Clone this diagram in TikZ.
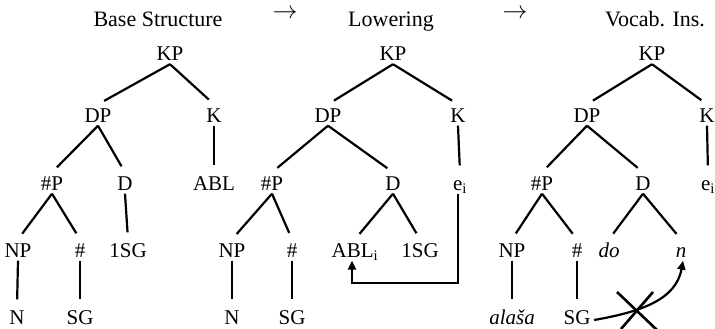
\documentclass[tikz,border=0pt]{standalone}
\usepackage{fontspec}
\setmainfont{Liberation Serif}
\usetikzlibrary{arrows.meta,calc}
\begin{document}
\begin{tikzpicture}[x=1pt,y=-1pt,
  lab/.style={font=\fontsize{21}{25}\selectfont, text height=14pt, text depth=0pt, inner sep=3.5pt},
  ttl/.style={font=\fontsize{22}{26}\selectfont, inner sep=0pt, anchor=base},
  arr/.style={font=\fontsize{24}{28}\selectfont, inner sep=0pt, anchor=base},
  edge/.style={line width=2.2pt, shorten >=7pt},
  mv/.style={line width=2.2pt, -{Triangle[length=9pt,width=8pt]}},
  crs/.style={line width=2.6pt},
  ]
\useasboundingbox (0,0) rectangle (715,329);
% titles
\node[ttl] (t1) at (158,27) {Base Structure};
\node[arr] (a1) at (285,19) {$\rightarrow$};
\node[ttl] (t2) at (391,27) {Lowering};
\node[arr] (a2) at (515,19) {$\rightarrow$};
\node[ttl] (t3) at (655,27) {Vocab. Ins.};
% tree 1
\node[lab] (KP1) at (170,53.5) {KP};
\node[lab] (DP1) at (98,115) {DP};
\node[lab] (K1) at (214,115) {K};
\node[lab] (NumP1) at (52,183) {\#P};
\node[lab] (D1) at (125,183) {D};
\node[lab] (ABL1) at (214,183) {ABL};
\node[lab] (NP1) at (18,250) {NP};
\node[lab] (Num1) at (80,250) {\#};
\node[lab] (SGa1) at (128,250) {1SG};
\node[lab] (N1) at (17,317) {N};
\node[lab] (SG1) at (80,317) {SG};
\draw[edge] (KP1.south) -- (DP1.north);
\draw[edge] (KP1.south) -- (K1.north);
\draw[edge] (DP1.south) -- (NumP1.north);
\draw[edge] (DP1.south) -- (D1.north);
\draw[edge] (K1.south) -- (ABL1.north);
\draw[edge] (NumP1.south) -- (NP1.north);
\draw[edge] (NumP1.south) -- (Num1.north);
\draw[edge] (D1.south) -- (SGa1.north);
\draw[edge] (NP1.south) -- (N1.north);
\draw[edge] (Num1.south) -- (SG1.north);
% tree 2
\node[lab] (KP2) at (393,53.5) {KP};
\node[lab] (DP2) at (328,115) {DP};
\node[lab] (K2) at (458,115) {K};
\node[lab] (NumP2) at (272,183) {\#P};
\node[lab] (D2) at (393,183) {D};
\node[lab] (e2) at (460,183) {e\textsubscript{i}};
\node[lab] (NP2) at (232,250) {NP};
\node[lab] (Num2) at (292,250) {\#};
\node[lab] (ABL2) at (355,250) {ABL\textsubscript{i}};
\node[lab] (SGa2) at (420,250) {1SG};
\node[lab] (N2) at (232,317) {N};
\node[lab] (SG2) at (292,317) {SG};
\draw[edge] (KP2.south) -- (DP2.north);
\draw[edge] (KP2.south) -- (K2.north);
\draw[edge] (DP2.south) -- (NumP2.north);
\draw[edge] (DP2.south) -- (D2.north);
\draw[edge] (K2.south) -- (e2.north);
\draw[edge] (NumP2.south) -- (NP2.north);
\draw[edge] (NumP2.south) -- (Num2.north);
\draw[edge] (D2.south) -- (ABL2.north);
\draw[edge] (D2.south) -- (SGa2.north);
\draw[edge] (NP2.south) -- (N2.north);
\draw[edge] (Num2.south) -- (SG2.north);
\draw[mv] ([xshift=-2pt]e2.south) -- ++(0,89) -| ([xshift=-3pt]ABL2.south);
% tree 3
\node[lab] (KP3) at (652,53.5) {KP};
\node[lab] (DP3) at (587,115) {DP};
\node[lab] (K3) at (707,115) {K};
\node[lab] (NumP3) at (542,183) {\#P};
\node[lab] (D3) at (643,183) {D};
\node[lab] (e3) at (708,183) {e\textsubscript{i}};
\node[lab] (NP3) at (512,250) {NP};
\node[lab] (Num3) at (577,250) {\#};
\node[lab] (do3) at (609,250) {\itshape do};
\node[lab] (n3) at (681,250) {\itshape n};
\node[lab] (al3) at (512,317) {\itshape alaša};
\node[lab] (SG3) at (577,317) {SG};
\draw[edge] (KP3.south) -- (DP3.north);
\draw[edge] (KP3.south) -- (K3.north);
\draw[edge] (DP3.south) -- (NumP3.north);
\draw[edge] (DP3.south) -- (D3.north);
\draw[edge] (K3.south) -- (e3.north);
\draw[edge] (NumP3.south) -- (NP3.north);
\draw[edge] (NumP3.south) -- (Num3.north);
\draw[edge] (D3.south) -- (do3.north);
\draw[edge] (D3.south) -- (n3.north);
\draw[edge] (NP3.south) -- (al3.north);
\draw[edge] (Num3.south) -- (SG3.north);
\draw[mv] ([yshift=-3pt]SG3.east) .. controls (640,312) and (676,300) .. ([xshift=2pt]n3.south);
\coordinate (X) at (637,311);
\draw[crs] ($(X)+(-20,-19)$) -- ($(X)+(20,19)$);
\draw[crs] ($(X)+(16,-19)$) -- ($(X)+(-16,18)$);
\end{tikzpicture}
\end{document}
